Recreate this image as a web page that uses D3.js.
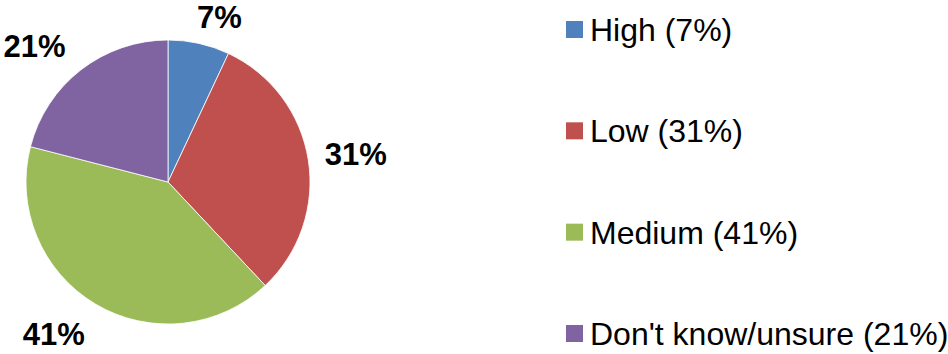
<!DOCTYPE html>
<html>
<head>
<meta charset="utf-8">
<script src="https://cdn.jsdelivr.net/npm/d3@7"></script>
<style>
  html, body { margin: 0; padding: 0; background: #fff; }
  svg { display: block; }
</style>
</head>
<body>
<svg id="chart" width="948" height="354"></svg>
<script>
// Risk-level breakdown shown as a pie with percentage labels and a legend
const categories = ["High", "Low", "Medium", "Don't know/unsure"];
const values = [7, 31, 41, 21];
const colors = ["#4F81BD", "#C0504D", "#9BBB59", "#8064A2"];

const svg = d3.select("#chart");
const cx = 168, cy = 182, radius = 142;
const labelRadius = 185;
// small per-slice adjustments so labels sit clear of the rim
const labelNudge = [[11, 16], [5, 1], [-20, -7], [-20, 10]];

const pie = d3.pie().sort(null).value(d => d)(values);
const arc = d3.arc().innerRadius(0).outerRadius(radius);
const labelArc = d3.arc().innerRadius(labelRadius).outerRadius(labelRadius);

const g = svg.append("g").attr("transform", `translate(${cx},${cy})`);

g.selectAll("path.slice")
  .data(pie)
  .join("path")
  .attr("class", "slice")
  .attr("d", arc)
  .attr("fill", (d, i) => colors[i])
  .attr("stroke", "#fff")
  .attr("stroke-width", 0.8);

g.selectAll("text.pct")
  .data(pie)
  .join("text")
  .attr("class", "pct")
  .attr("x", (d, i) => labelArc.centroid(d)[0] + labelNudge[i][0])
  .attr("y", (d, i) => labelArc.centroid(d)[1] + labelNudge[i][1])
  .attr("dy", "0.35em")
  .attr("text-anchor", "middle")
  .attr("font-family", "Liberation Sans, Arial, sans-serif")
  .attr("font-weight", "bold")
  .attr("font-size", 31)
  .attr("fill", "#000")
  .text(d => `${d.data}%`);

// Legend
const legendY = d3.scalePoint().domain(categories).range([41, 345]);
const legend = svg.append("g");
const rows = legend.selectAll("g.row")
  .data(categories)
  .join("g")
  .attr("class", "row")
  .attr("transform", d => `translate(0,${legendY(d)})`);

rows.append("rect")
  .attr("x", 566)
  .attr("y", -20)
  .attr("width", 17)
  .attr("height", 17)
  .attr("fill", (d, i) => colors[i]);

rows.append("text")
  .attr("x", 590)
  .attr("y", 0)
  .attr("font-family", "Liberation Sans, Arial, sans-serif")
  .attr("font-size", 32)
  .attr("fill", "#000")
  .text((d, i) => `${d} (${values[i]}%)`);
</script>
</body>
</html>
